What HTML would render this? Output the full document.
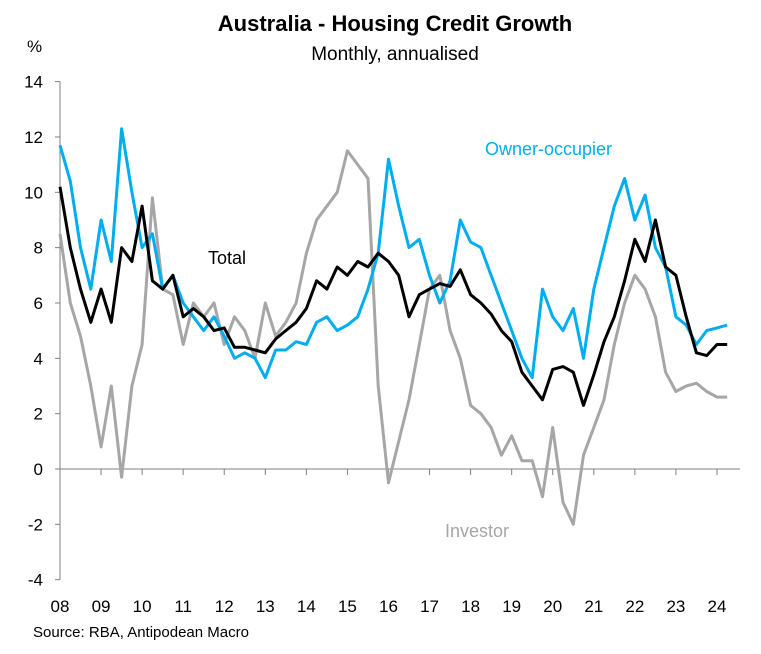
<!DOCTYPE html>
<html><head><meta charset="utf-8"><style>
body{margin:0;background:#fff;font-family:"Liberation Sans",Arial,sans-serif;}
svg text{font-family:"Liberation Sans",Arial,sans-serif;}
</style></head><body>
<svg id="chart" width="761" height="649" viewBox="0 0 761 649" xmlns="http://www.w3.org/2000/svg">
<text x="395" y="31" text-anchor="middle" font-size="22" font-weight="bold">Australia - Housing Credit Growth</text>
<text x="395" y="60" text-anchor="middle" font-size="19">Monthly, annualised</text>
<text x="27" y="52" font-size="17">%</text>
<text x="33" y="637" font-size="15">Source: RBA, Antipodean Macro</text>
<g id="axes"></g>
<g id="series"></g>
<text x="485" y="155" font-size="18" fill="#00AEEF">Owner-occupier</text>
<text x="208" y="264" font-size="18" fill="#000">Total</text>
<text x="445" y="537" font-size="18" fill="#A6A6A6">Investor</text>
</svg>
<script>
const startYear = 2008;
const step = 0.25;
const owner = [11.7,10.4,8.0,6.5,9.0,7.5,12.3,10.0,8.0,8.5,6.5,7.0,6.0,5.5,5.0,5.5,4.8,4.0,4.2,4.0,3.3,4.3,4.3,4.6,4.5,5.3,5.5,5.0,5.2,5.5,6.5,7.8,11.2,9.5,8.0,8.3,7.0,6.0,6.8,9.0,8.2,8.0,7.0,6.0,5.0,4.0,3.3,6.5,5.5,5.0,5.8,4.0,6.5,8.0,9.5,10.5,9.0,9.9,8.0,7.3,5.5,5.2,4.5,5.0,5.1,5.2];
const total = [10.2,8.0,6.5,5.3,6.5,5.3,8.0,7.5,9.5,6.8,6.5,7.0,5.5,5.8,5.5,5.0,5.1,4.4,4.4,4.3,4.2,4.7,5.0,5.3,5.8,6.8,6.5,7.3,7.0,7.5,7.3,7.8,7.5,7.0,5.5,6.3,6.5,6.7,6.6,7.2,6.3,6.0,5.6,5.0,4.6,3.5,3.0,2.5,3.6,3.7,3.5,2.3,3.4,4.6,5.5,6.8,8.3,7.5,9.0,7.3,7.0,5.5,4.2,4.1,4.5,4.5];
const investor = [8.5,6.0,4.8,3.0,0.8,3.0,-0.3,3.0,4.5,9.8,6.5,6.3,4.5,6.0,5.5,6.0,4.5,5.5,5.0,4.0,6.0,4.8,5.3,6.0,7.8,9.0,9.5,10.0,11.5,11.0,10.5,3.0,-0.5,1.0,2.5,4.5,6.5,7.0,5.0,4.0,2.3,2.0,1.5,0.5,1.2,0.3,0.3,-1.0,1.5,-1.2,-2.0,0.5,1.5,2.5,4.5,6.0,7.0,6.5,5.5,3.5,2.8,3.0,3.1,2.8,2.6,2.6];
const yTicks = [-4,-2,0,2,4,6,8,10,12,14];
const xTickLabels = ["08","09","10","11","12","13","14","15","16","17","18","19","20","21","22","23","24"];

const X0 = 60, PX_PER_YEAR = 41.06, Y0 = 469, PX_PER_UNIT = 27.67;
function xScale(yr){ return X0 + (yr - startYear) * PX_PER_YEAR; }
function yScale(v){ return Y0 - v * PX_PER_UNIT; }
const NS = "http://www.w3.org/2000/svg";
const axes = document.getElementById('axes');
const series = document.getElementById('series');

const yAxis = document.createElementNS(NS,'line');


yAxis.setAttribute('x1',X0); yAxis.setAttribute('x2',X0);
yAxis.setAttribute('y1',yScale(14)); yAxis.setAttribute('y2',yScale(-4));
yAxis.setAttribute('stroke','#7f7f7f'); yAxis.setAttribute('stroke-width','1');
axes.appendChild(yAxis);

yTicks.forEach(t=>{
  const tk = document.createElementNS(NS,'line');
  
  
  tk.setAttribute('x1',X0-5); tk.setAttribute('x2',X0);
  tk.setAttribute('y1',yScale(t)); tk.setAttribute('y2',yScale(t));
  tk.setAttribute('stroke','#7f7f7f');
  axes.appendChild(tk);
  const lb = document.createElementNS(NS,'text');
  
  
  lb.setAttribute('x',X0-17); lb.setAttribute('y',yScale(t)+6);
  lb.setAttribute('text-anchor','end'); lb.setAttribute('font-size','17');
  lb.textContent = t;
  axes.appendChild(lb);
});

const xAxis = document.createElementNS(NS,'line');


xAxis.setAttribute('x1',X0); xAxis.setAttribute('x2',740);
xAxis.setAttribute('y1',yScale(0)); xAxis.setAttribute('y2',yScale(0));
xAxis.setAttribute('stroke','#7f7f7f');
axes.appendChild(xAxis);

xTickLabels.forEach((l,i)=>{
  const x = xScale(startYear+i);
  const tk = document.createElementNS(NS,'line');
  
  
  tk.setAttribute('x1',x); tk.setAttribute('x2',x);
  tk.setAttribute('y1',yScale(0)); tk.setAttribute('y2',yScale(0)+6);
  tk.setAttribute('stroke','#7f7f7f');
  axes.appendChild(tk);
  const lb = document.createElementNS(NS,'text');
  
  
  lb.setAttribute('x',x); lb.setAttribute('y',612);
  lb.setAttribute('text-anchor','middle'); lb.setAttribute('font-size','17');
  lb.textContent = l;
  axes.appendChild(lb);
});

function drawLine(arr,color,name){
  const p = document.createElementNS(NS,'polyline');
  
  
  p.setAttribute('points',arr.map((v,i)=>xScale(startYear+i*step).toFixed(1)+','+yScale(v).toFixed(1)).join(' '));
  p.setAttribute('fill','none'); p.setAttribute('stroke',color);
  p.setAttribute('stroke-width','3'); p.setAttribute('stroke-linejoin','round');
  series.appendChild(p);
}
drawLine(investor,'#A6A6A6','investor-line');
drawLine(owner,'#00AEEF','owner-occupier-line');
drawLine(total,'#000000','total-line');
</script>
</body></html>
